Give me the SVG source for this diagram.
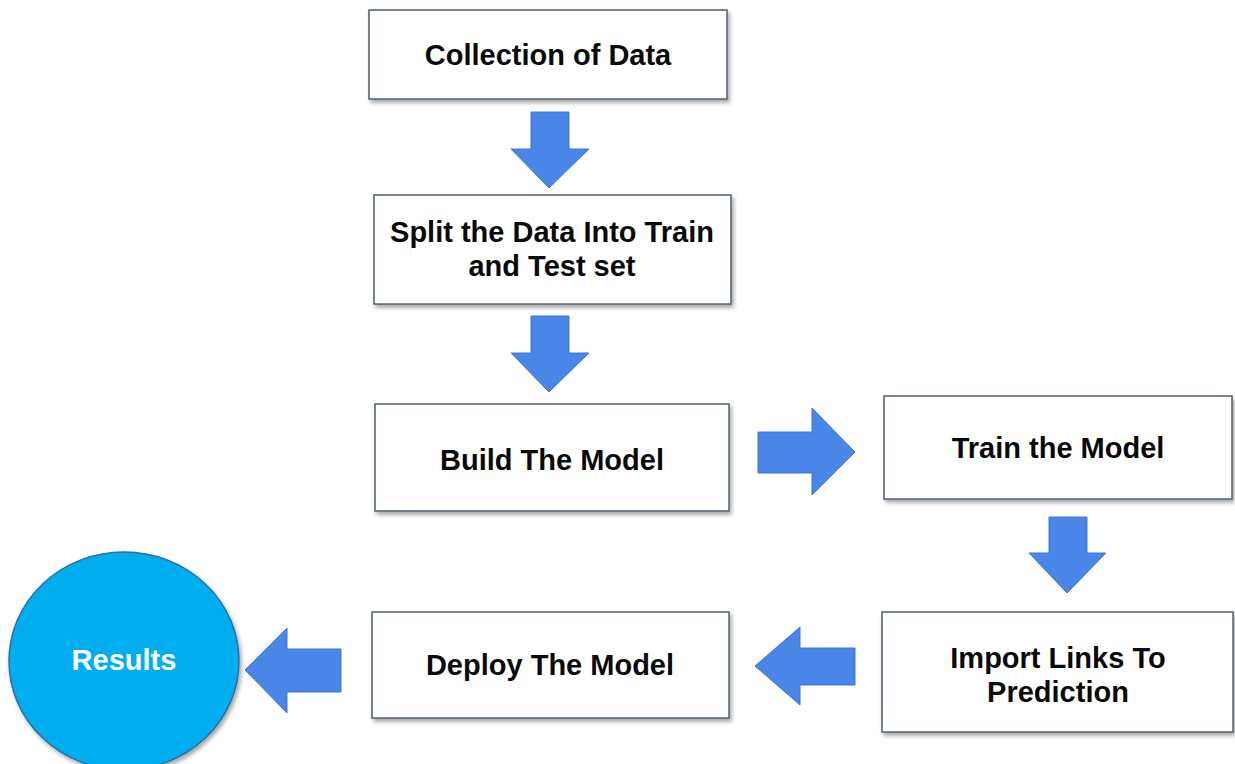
<svg xmlns="http://www.w3.org/2000/svg" width="1235" height="764" viewBox="0 0 1235 764">
  <defs>
    <filter id="sh" x="-5%" y="-10%" width="115%" height="130%">
      <feDropShadow dx="2" dy="3" stdDeviation="2" flood-color="#000" flood-opacity="0.35"/>
    </filter>
  </defs>
  <style>
    .box { fill: #ffffff; stroke: #4f6070; stroke-width: 1.5; filter: url(#sh); }
    .lbl { font-family: "Liberation Sans", Arial, sans-serif; font-weight: bold; font-size: 29px; fill: #0a0a0a; text-anchor: middle; }
    .arrow { fill: #4a86e8; stroke: #3f77d2; stroke-width: 1; }
    .res { fill: #00aeef; stroke: #2a6fa8; stroke-width: 1.5; filter: url(#sh); }
    .reslbl { font-family: "Liberation Sans", Arial, sans-serif; font-weight: bold; font-size: 29px; fill: #ffffff; text-anchor: middle; }
  </style>
  <rect width="1235" height="764" fill="#ffffff"/>

  <g id="connectors">
    <polygon class="arrow" points="531,112 569,112 569,149 589,149 549,188 511,149 531,149"/>
    <polygon class="arrow" points="531,316 569,316 569,353 589,353 549,392 511,353 531,353"/>
    <polygon class="arrow" points="758,432 812,432 812,408 855,452 812,495 812,473 758,473"/>
    <polygon class="arrow" points="1049,517 1087,517 1087,553 1106,553 1067,593 1029,553 1049,553"/>
    <polygon class="arrow" points="855,648 800,648 800,627 755,666 800,705 800,685 855,685"/>
    <polygon class="arrow" points="341,649 287,649 287,628 245,670 287,713 287,692 341,692"/>
  </g>

  <g id="collection">
    <rect class="box" x="369" y="10" width="358" height="89"/>
    <text class="lbl" x="548" y="65">Collection of Data</text>
  </g>
  <g id="split">
    <rect class="box" x="374" y="195" width="357" height="109"/>
    <text class="lbl" x="552" y="242">Split the Data Into Train</text>
    <text class="lbl" x="552" y="276">and Test set</text>
  </g>
  <g id="build">
    <rect class="box" x="375" y="404" width="354" height="107"/>
    <text class="lbl" x="552" y="470">Build The Model</text>
  </g>
  <g id="train">
    <rect class="box" x="884" y="396" width="348" height="103"/>
    <text class="lbl" x="1058" y="458">Train the Model</text>
  </g>
  <g id="import">
    <rect class="box" x="882" y="612" width="351" height="120"/>
    <text class="lbl" x="1058" y="668">Import Links To</text>
    <text class="lbl" x="1058" y="702">Prediction</text>
  </g>
  <g id="deploy">
    <rect class="box" x="372" y="612" width="357" height="106"/>
    <text class="lbl" x="550" y="675">Deploy The Model</text>
  </g>
  <g id="results">
    <ellipse class="res" cx="124" cy="661" rx="115" ry="109"/>
    <text class="reslbl" x="124" y="670">Results</text>
  </g>
</svg>
